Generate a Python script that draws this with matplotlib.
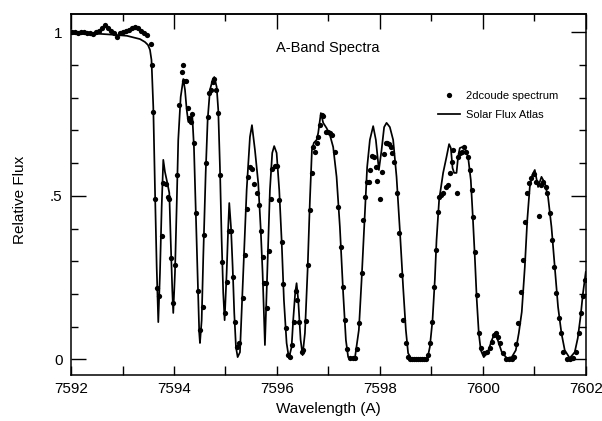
import matplotlib
matplotlib.use("Agg")
import matplotlib.pyplot as plt
from matplotlib.ticker import MultipleLocator

plt.rcParams['font.family'] = ['Liberation Sans', 'DejaVu Sans']

# Solar Flux Atlas (solid line)
atlas_wl = [7592.000, 7592.272, 7592.563, 7592.854, 7593.087, 7593.340, 7593.437, 7593.495,
            7593.534, 7593.563, 7593.598, 7593.631, 7593.664, 7593.695, 7593.728, 7593.761,
            7593.792, 7593.825, 7593.870, 7593.909, 7593.936, 7593.967, 7593.986, 7594.019,
            7594.052, 7594.083, 7594.130, 7594.181, 7594.214, 7594.247, 7594.278, 7594.311,
            7594.355, 7594.388, 7594.421, 7594.460, 7594.491, 7594.505, 7594.538, 7594.569,
            7594.616, 7594.654, 7594.699, 7594.751, 7594.783, 7594.829, 7594.860, 7594.893,
            7594.926, 7594.957, 7594.984, 7595.023, 7595.054, 7595.074, 7595.107, 7595.140,
            7595.171, 7595.204, 7595.237, 7595.282, 7595.346, 7595.412, 7595.476, 7595.515,
            7595.573, 7595.637, 7595.683, 7595.722, 7595.767, 7595.812, 7595.864, 7595.909,
            7595.947, 7595.994, 7596.045, 7596.091, 7596.136, 7596.188, 7596.233, 7596.285,
            7596.316, 7596.355, 7596.382, 7596.414, 7596.460, 7596.499, 7596.544, 7596.596,
            7596.641, 7596.680, 7596.718, 7596.771, 7596.802, 7596.854, 7596.899, 7596.965,
            7597.029, 7597.093, 7597.159, 7597.223, 7597.287, 7597.340, 7597.384, 7597.450,
            7597.515, 7597.592, 7597.645, 7597.709, 7597.753, 7597.806, 7597.870, 7597.922,
            7597.981, 7598.033, 7598.083, 7598.130, 7598.194, 7598.258, 7598.324, 7598.388,
            7598.452, 7598.505, 7598.549, 7598.615, 7598.777, 7598.913, 7598.938, 7598.971,
            7599.023, 7599.068, 7599.101, 7599.151, 7599.229, 7599.295, 7599.345, 7599.379,
            7599.412, 7599.443, 7599.489, 7599.520, 7599.553, 7599.598, 7599.650, 7599.714,
            7599.767, 7599.806, 7599.845, 7599.883, 7599.922, 7599.961, 7600.019, 7600.097,
            7600.175, 7600.233, 7600.291, 7600.369, 7600.466, 7600.563, 7600.641, 7600.699,
            7600.757, 7600.816, 7600.864, 7600.913, 7600.961, 7601.010, 7601.074, 7601.140,
            7601.204, 7601.268, 7601.334, 7601.398, 7601.462, 7601.528, 7601.592, 7601.689,
            7601.786, 7601.845, 7601.903, 7601.942, 7602.000]
atlas_flux = [0.995, 0.995, 0.995, 0.992, 0.989, 0.979, 0.970, 0.961,
              0.946, 0.915, 0.772, 0.518, 0.282, 0.114, 0.264, 0.466,
              0.610, 0.573, 0.540, 0.509, 0.365, 0.212, 0.142, 0.264,
              0.466, 0.671, 0.802, 0.857, 0.824, 0.763, 0.726, 0.723,
              0.747, 0.649, 0.466, 0.243, 0.080, 0.050, 0.120, 0.313,
              0.570, 0.732, 0.824, 0.854, 0.863, 0.833, 0.763, 0.588,
              0.365, 0.203, 0.120, 0.264, 0.405, 0.478, 0.405, 0.282,
              0.142, 0.038, 0.007, 0.022, 0.264, 0.518, 0.680, 0.716,
              0.640, 0.539, 0.405, 0.264, 0.044, 0.264, 0.518, 0.631,
              0.652, 0.631, 0.518, 0.365, 0.181, 0.050, 0.004, 0.038,
              0.120, 0.203, 0.233, 0.181, 0.060, 0.013, 0.080, 0.273,
              0.487, 0.640, 0.662, 0.671, 0.692, 0.753, 0.723, 0.707,
              0.686, 0.649, 0.558, 0.405, 0.203, 0.059, 0.007, 0.000,
              0.004, 0.090, 0.243, 0.447, 0.588, 0.671, 0.713, 0.671,
              0.579, 0.640, 0.710, 0.723, 0.710, 0.671, 0.558, 0.396,
              0.221, 0.090, 0.019, 0.001, 0.000, 0.001, 0.013, 0.038,
              0.120, 0.243, 0.365, 0.487, 0.570, 0.619, 0.658, 0.646,
              0.585, 0.570, 0.570, 0.619, 0.646, 0.649, 0.646, 0.619,
              0.548, 0.435, 0.313, 0.181, 0.080, 0.028, 0.007, 0.022,
              0.059, 0.080, 0.059, 0.022, 0.004, 0.007, 0.028, 0.080,
              0.145, 0.282, 0.426, 0.527, 0.564, 0.579, 0.527, 0.558,
              0.539, 0.496, 0.405, 0.282, 0.160, 0.080, 0.028, 0.004,
              0.022, 0.065, 0.136, 0.197, 0.267]

# 2dcoude spectrum (dots)
coude_wl = [7592.019, 7592.078, 7592.136, 7592.194, 7592.252, 7592.311, 7592.369, 7592.427,
            7592.485, 7592.544, 7592.602, 7592.660, 7592.718, 7592.777, 7592.835, 7592.893,
            7592.951, 7593.010, 7593.068, 7593.126, 7593.184, 7593.243, 7593.301, 7593.359,
            7593.417, 7593.476, 7593.548, 7593.567, 7593.598, 7593.631, 7593.676, 7593.715,
            7593.761, 7593.792, 7593.839, 7593.878, 7593.909, 7593.942, 7593.986, 7594.019,
            7594.064, 7594.103, 7594.149, 7594.169, 7594.194, 7594.233, 7594.266, 7594.297,
            7594.324, 7594.355, 7594.388, 7594.427, 7594.460, 7594.505, 7594.557, 7594.588,
            7594.621, 7594.654, 7594.685, 7594.718, 7594.751, 7594.783, 7594.816, 7594.860,
            7594.893, 7594.926, 7594.990, 7595.023, 7595.068, 7595.101, 7595.140, 7595.184,
            7595.217, 7595.262, 7595.334, 7595.379, 7595.423, 7595.443, 7595.476, 7595.520,
            7595.559, 7595.606, 7595.650, 7595.695, 7595.734, 7595.748, 7595.786, 7595.812,
            7595.850, 7595.883, 7595.909, 7595.955, 7595.994, 7596.045, 7596.091, 7596.122,
            7596.169, 7596.219, 7596.252, 7596.285, 7596.330, 7596.369, 7596.394, 7596.433,
            7596.480, 7596.511, 7596.557, 7596.596, 7596.641, 7596.674, 7596.705, 7596.738,
            7596.771, 7596.802, 7596.835, 7596.868, 7596.899, 7596.951, 7596.996, 7597.029,
            7597.062, 7597.126, 7597.190, 7597.237, 7597.276, 7597.320, 7597.353, 7597.417,
            7597.470, 7597.515, 7597.559, 7597.592, 7597.645, 7597.676, 7597.709, 7597.753,
            7597.792, 7597.806, 7597.839, 7597.889, 7597.917, 7597.936, 7598.000, 7598.033,
            7598.078, 7598.117, 7598.142, 7598.175, 7598.208, 7598.239, 7598.272, 7598.324,
            7598.369, 7598.408, 7598.452, 7598.505, 7598.549, 7598.583, 7598.621, 7598.660,
            7598.699, 7598.738, 7598.777, 7598.816, 7598.854, 7598.893, 7598.938, 7598.971,
            7599.010, 7599.054, 7599.087, 7599.120, 7599.151, 7599.184, 7599.217, 7599.276,
            7599.315, 7599.359, 7599.392, 7599.423, 7599.489, 7599.520, 7599.553, 7599.592,
            7599.637, 7599.670, 7599.703, 7599.748, 7599.781, 7599.816, 7599.845, 7599.883,
            7599.922, 7599.961, 7600.019, 7600.078, 7600.136, 7600.175, 7600.214, 7600.252,
            7600.291, 7600.330, 7600.388, 7600.447, 7600.505, 7600.563, 7600.602, 7600.641,
            7600.686, 7600.738, 7600.783, 7600.816, 7600.860, 7600.899, 7600.946, 7600.997,
            7601.043, 7601.088, 7601.140, 7601.171, 7601.223, 7601.256, 7601.301, 7601.346,
            7601.384, 7601.431, 7601.481, 7601.524, 7601.563, 7601.631, 7601.689, 7601.748,
            7601.819, 7601.864, 7601.903, 7601.942, 7601.981]
coude_flux = [1.001, 1.001, 0.999, 1.001, 1.002, 0.999, 0.998, 0.996,
              1.001, 1.005, 1.013, 1.022, 1.013, 1.004, 0.998, 0.985,
              0.998, 1.001, 1.004, 1.007, 1.013, 1.016, 1.013, 1.004,
              0.998, 0.992, 0.964, 0.901, 0.756, 0.490, 0.218, 0.194,
              0.377, 0.539, 0.536, 0.496, 0.490, 0.310, 0.172, 0.288,
              0.564, 0.778, 0.879, 0.900, 0.851, 0.851, 0.768, 0.738,
              0.726, 0.750, 0.661, 0.447, 0.209, 0.090, 0.160, 0.380,
              0.600, 0.741, 0.814, 0.824, 0.848, 0.857, 0.824, 0.753,
              0.564, 0.298, 0.142, 0.236, 0.392, 0.392, 0.252, 0.114,
              0.038, 0.050, 0.187, 0.319, 0.460, 0.558, 0.588, 0.582,
              0.536, 0.509, 0.472, 0.392, 0.313, 0.233, 0.233, 0.157,
              0.331, 0.490, 0.582, 0.591, 0.591, 0.487, 0.359, 0.230,
              0.096, 0.013, 0.007, 0.044, 0.114, 0.209, 0.181, 0.114,
              0.022, 0.028, 0.117, 0.288, 0.457, 0.570, 0.649, 0.634,
              0.661, 0.680, 0.716, 0.747, 0.744, 0.695, 0.695, 0.692,
              0.686, 0.634, 0.466, 0.343, 0.221, 0.120, 0.032, 0.004,
              0.004, 0.004, 0.032, 0.111, 0.264, 0.426, 0.496, 0.542,
              0.542, 0.579, 0.622, 0.619, 0.588, 0.545, 0.490, 0.573,
              0.628, 0.661, 0.661, 0.658, 0.649, 0.631, 0.603, 0.509,
              0.386, 0.258, 0.120, 0.050, 0.007, 0.000, 0.000, 0.000,
              0.000, 0.000, 0.000, 0.000, 0.000, 0.001, 0.013, 0.050,
              0.114, 0.221, 0.334, 0.450, 0.496, 0.502, 0.509, 0.527,
              0.533, 0.570, 0.603, 0.640, 0.509, 0.619, 0.631, 0.634,
              0.649, 0.634, 0.619, 0.579, 0.518, 0.435, 0.328, 0.197,
              0.080, 0.035, 0.019, 0.022, 0.035, 0.053, 0.074, 0.080,
              0.068, 0.050, 0.019, 0.001, 0.000, 0.000, 0.007, 0.047,
              0.111, 0.206, 0.304, 0.420, 0.509, 0.539, 0.555, 0.567,
              0.542, 0.438, 0.533, 0.542, 0.527, 0.509, 0.447, 0.365,
              0.282, 0.203, 0.126, 0.080, 0.022, 0.001, 0.001, 0.004,
              0.022, 0.080, 0.142, 0.194, 0.243]

fig = plt.figure(figsize=(6.02, 4.21), dpi=100)
ax = fig.add_axes([0.118, 0.109, 0.855, 0.858])

ax.plot(atlas_wl, atlas_flux, color='black', lw=1.25, label='Solar Flux Atlas')
ax.plot(coude_wl, coude_flux, 'o', color='black', ms=3.8, mew=0, label='2dcoude spectrum')

ax.set_xlim(7592, 7602)
ax.set_ylim(-0.048, 1.056)

# ticks: inward, labelled majors every 2 A, minors every 1 A / 0.1 flux
ax.set_xticks([7592, 7594, 7596, 7598, 7600, 7602])
ax.xaxis.set_minor_locator(MultipleLocator(1))
ax.set_yticks([0, 0.5, 1], ['0', '.5', '1'])
ax.yaxis.set_minor_locator(MultipleLocator(0.1))
ax.tick_params(axis='x', which='both', direction='in', length=6.5, width=1.0,
               top=False, labelsize=11, pad=5)
ax.tick_params(axis='y', which='major', direction='in', length=11, width=1.0,
               right=True, labelsize=11, pad=6)
ax.tick_params(axis='y', which='minor', direction='in', length=5, width=1.0, right=True)

top = ax.secondary_xaxis('top')
top.set_xticks([7592, 7594, 7596, 7598, 7600, 7602])
top.xaxis.set_minor_locator(MultipleLocator(1))
top.tick_params(axis='x', which='major', direction='in', length=11, width=1.0, labeltop=False)
top.tick_params(axis='x', which='minor', direction='in', length=5, width=1.0)

for s in ax.spines.values():
    s.set_linewidth(1.1)
top.spines['top'].set_linewidth(1.1)

ax.set_xlabel('Wavelength (A)', fontsize=11)
ax.set_ylabel('Relative Flux', fontsize=11)
ax.xaxis.set_label_coords(0.5, -0.075)
ax.yaxis.set_label_coords(-0.085, 0.486)

ax.text(0.499, 0.906, 'A-Band Spectra', transform=ax.transAxes,
        ha='center', va='center', fontsize=10.5)

handles, labels = ax.get_legend_handles_labels()
ax.legend(handles[::-1], labels[::-1], loc='upper left', bbox_to_anchor=(0.712, 0.787),
          frameon=False, fontsize=8, borderpad=0, borderaxespad=0,
          handlelength=2.0, handletextpad=0.6, labelspacing=0.8, markerscale=1.0)

fig.savefig('out.png', dpi=100)
